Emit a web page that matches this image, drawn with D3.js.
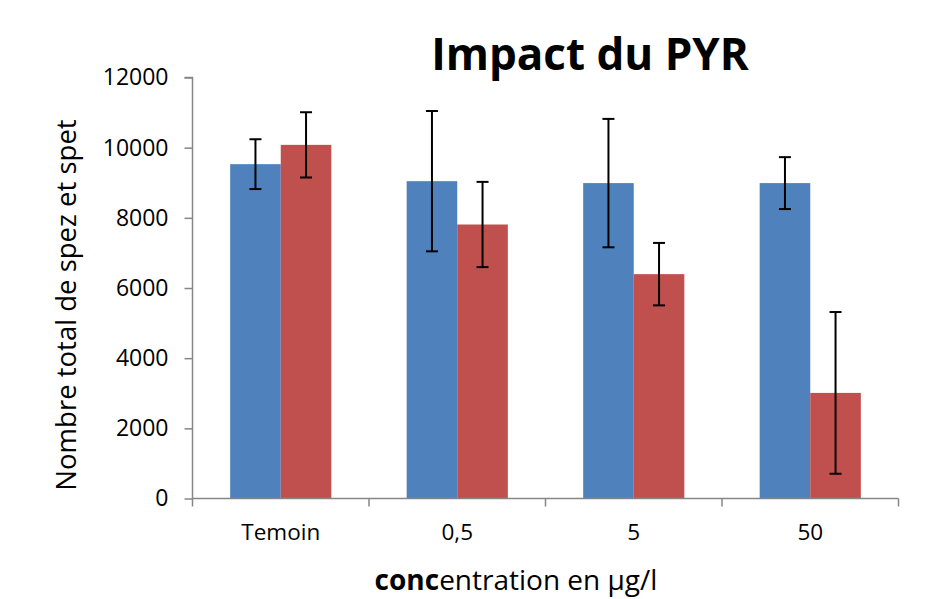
<!DOCTYPE html>
<html><head><meta charset="utf-8">
<script src="https://cdn.jsdelivr.net/npm/d3@7"></script>
<style>body{margin:0;background:#fff;} svg{display:block;}</style>
</head><body>
<svg id="chart" width="930" height="599"></svg>
<script>
const categories = ["Temoin", "0,5", "5", "50"];
const seriesNames = ["A", "B"];
const blueValues = [9530, 9045, 8990, 8990];
const blueErrors = [710, 2000, 1830, 740];
const redValues = [10080, 7810, 6395, 3010];
const redErrors = [930, 1215, 890, 2305];
const yTicks = [0, 2000, 4000, 6000, 8000, 10000, 12000];
const colors = ["#4F81BD", "#C0504D"];

(function () {
const svg = d3.select("#chart");
const pLeft = 192.5, pRight = 898.5, pTop = 77.5, pBottom = 498.5;
const font = "'Open Sans', sans-serif";

const x = d3.scaleBand().domain(categories).range([pLeft, pRight]).padding(0);
const y = d3.scaleLinear().domain([0, 12000]).range([pBottom, pTop]);
const barW = x.bandwidth() * 0.2866;
const inner = d3.scaleBand().domain(seriesNames).range([0, barW * 2]);

const series = [
  {name: "A", values: blueValues, errs: blueErrors, color: colors[0]},
  {name: "B", values: redValues, errs: redErrors, color: colors[1]}
];

const gBars = svg.append("g");
series.forEach(s => {
  categories.forEach((c, i) => {
    const x0 = x(c) + (x.bandwidth() - barW * 2) / 2 + inner(s.name);
    gBars.append("rect")
      .attr("x", x0).attr("width", inner.bandwidth())
      .attr("y", y(s.values[i])).attr("height", y(0) - y(s.values[i]))
      .attr("fill", s.color);
  });
});

const yAxis = d3.axisLeft(y).tickValues(yTicks).tickSize(8).tickPadding(10).tickFormat(d3.format("d"));
const gy = svg.append("g").attr("transform", `translate(${pLeft},0)`).call(yAxis);
gy.attr("font-family", font).attr("font-size", 23);
gy.select(".domain").attr("stroke", "#868686").attr("stroke-width", 1.5).attr("d", `M-8,${pTop}H0V${pBottom}`);
gy.selectAll(".tick line").attr("stroke", "#868686").attr("stroke-width", 1.5);
gy.selectAll(".tick text").style("font-family", font).style("font-size", "23px").attr("fill", "#000").attr("dx", "-6");

const gx = svg.append("g").attr("transform", `translate(0,${pBottom})`);
gx.append("line").attr("x1", pLeft).attr("x2", pRight).attr("y1", 0).attr("y2", 0)
  .attr("stroke", "#868686").attr("stroke-width", 1.5);
const bounds = categories.map(c => x(c)).concat([x(categories[categories.length - 1]) + x.bandwidth()]);
gx.selectAll("line.tk").data(bounds).enter().append("line").attr("class", "tk")
  .attr("x1", d => d).attr("x2", d => d).attr("y1", 0).attr("y2", 8)
  .attr("stroke", "#868686").attr("stroke-width", 1.5);
gx.selectAll("text.cat").data(categories).enter().append("text").attr("class", "cat")
  .attr("x", d => x(d) + x.bandwidth() / 2).attr("y", 41)
  .attr("text-anchor", "middle").style("font-family", font).style("font-size", "22.5px").text(d => d);

const gErr = svg.append("g");
series.forEach(s => {
  categories.forEach((c, i) => {
    const cx = x(c) + (x.bandwidth() - barW * 2) / 2 + inner(s.name) + inner.bandwidth() / 2;
    const hi = y(s.values[i] + s.errs[i]), lo = y(s.values[i] - s.errs[i]);
    gErr.append("line").attr("x1", cx).attr("x2", cx).attr("y1", hi).attr("y2", lo)
      .attr("stroke", "#000").attr("stroke-width", 2);
    [hi, lo].forEach(v => gErr.append("line").attr("x1", cx - 6).attr("x2", cx + 6)
      .attr("y1", v).attr("y2", v).attr("stroke", "#000").attr("stroke-width", 2));
  });
});

svg.append("text").attr("x", 590).attr("y", 70).attr("text-anchor", "middle")
  .style("font-family", font).attr("font-weight", "bold").style("font-size", "44px").text("Impact du PYR");

svg.append("text").attr("transform", "translate(76,305) rotate(-90)").attr("text-anchor", "middle")
  .style("font-family", font).style("font-size", "27.5px").text("Nombre total de spez et spet");

const xt = svg.append("text").attr("x", 516).attr("y", 590).attr("text-anchor", "middle")
  .style("font-family", font).style("font-size", "28px");
xt.append("tspan").attr("font-weight", "bold").text("conc");
xt.append("tspan").text("entration en µg/l");
})();
</script>
</body></html>
